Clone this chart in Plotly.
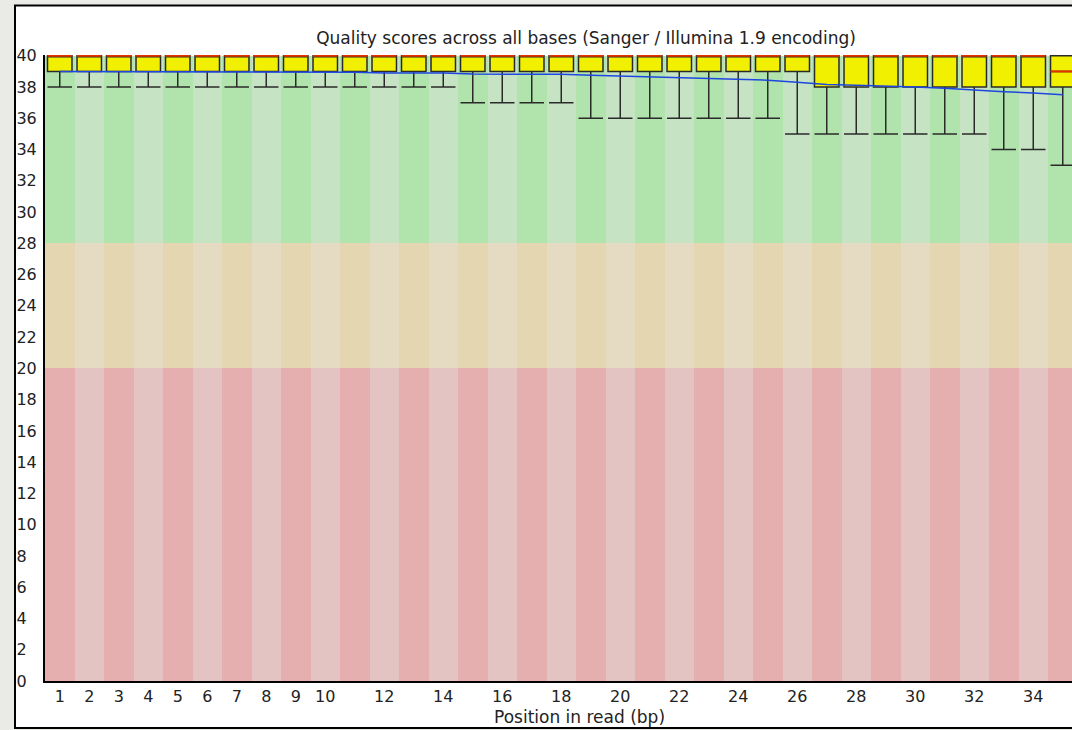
import plotly.graph_objects as go

# ---- data ----
positions = list(range(1, 36))
tick_vals = [1, 2, 3, 4, 5, 6, 7, 8, 9, 10, 12, 14, 16, 18, 20, 22, 24, 26, 28, 30, 32, 34]
tick_text = [str(v) for v in tick_vals]
y_tick_vals = list(range(0, 41, 2))

upper_whisker = [40] * 35
upper_quartile = [40] * 35
median = [40] * 34 + [39]
lower_quartile = [39] * 26 + [38] * 9
lower_whisker = [38] * 14 + [37] * 4 + [36] * 7 + [35] * 7 + [34] * 2 + [33]
mean = [38.99, 38.99, 38.99, 38.99, 38.95, 38.98, 38.98, 38.98, 38.95, 38.95,
        38.95, 38.9, 38.9, 38.9, 38.83, 38.83, 38.83, 38.82, 38.75, 38.7,
        38.66, 38.6, 38.52, 38.5, 38.44, 38.3, 38.17, 38.12, 38.07, 38.0,
        37.92, 37.8, 37.7, 37.62, 37.5]

# quality zones: thresholds and alternating colours (odd col, even col)
zone_bounds = [0, 20, 28, 40]
zone_colors = [
    ("rgb(230,175,175)", "rgb(228,195,195)"),  # poor
    ("rgb(228,214,176)", "rgb(228,219,194)"),  # reasonable
    ("rgb(176,228,172)", "rgb(198,228,196)"),  # good
]

title_text = "Quality scores across all bases (Sanger / Illumina 1.9 encoding)"
x_title_text = "Position in read (bp)"

FONT = "DejaVu Sans"
TXT = "#222222"
BOX_W = 0.83

fig = go.Figure()

# background zone bands
for i in range(3):
    lo, hi = zone_bounds[i], zone_bounds[i + 1]
    cols = [zone_colors[i][0] if p % 2 == 1 else zone_colors[i][1] for p in positions]
    fig.add_trace(go.Bar(
        x=positions, y=[hi - lo] * len(positions), base=[lo] * len(positions),
        width=1, marker=dict(color=cols, line=dict(width=0)),
        hoverinfo="skip", showlegend=False,
    ))

# boxes
fig.add_trace(go.Box(
    x=positions, q1=lower_quartile, median=median, q3=upper_quartile,
    lowerfence=lower_whisker, upperfence=upper_whisker,
    width=BOX_W, whiskerwidth=1,
    fillcolor="rgb(240,240,0)", line=dict(color="#2a2a2a", width=1.5),
    boxpoints=False, showlegend=False, hoverinfo="skip",
))

# medians (red)
mx, my = [], []
for p, m in zip(positions, median):
    mx += [p - BOX_W / 2, p + BOX_W / 2, None]
    my += [m, m, None]
fig.add_trace(go.Scatter(x=mx, y=my, mode="lines",
                         line=dict(color="rgb(225,50,0)", width=2),
                         hoverinfo="skip", showlegend=False))

# mean line (blue)
fig.add_trace(go.Scatter(x=positions, y=mean, mode="lines",
                         line=dict(color="rgb(30,70,225)", width=1.5),
                         hoverinfo="skip", showlegend=False))

y_tick_text = [str(v) if v >= 10 else str(v) + "\u2007" for v in y_tick_vals]

W, H = 1072, 730
L, R, T, B = 45, 0, 55, 49
pw, ph = W - L - R, H - T - B

fig.update_layout(
    width=W, height=H, autosize=False,
    margin=dict(l=L, r=R, t=T, b=B, pad=0),
    paper_bgcolor="rgb(234,234,231)",
    plot_bgcolor="white",
    barmode="overlay", bargap=0,
    font=dict(family=FONT, size=16, color=TXT),
    title=dict(text=title_text, x=(586 - L) / pw, xref="paper", xanchor="center",
               y=1 - 38 / H, yref="container", yanchor="middle",
               font=dict(family=FONT, size=17, color=TXT)),
    xaxis=dict(range=[0.5, 0.5 + pw / 29.5], tickvals=tick_vals, ticktext=tick_text,
               showgrid=False, zeroline=False, showline=True, linecolor="black",
               linewidth=2, ticks="", tickfont=dict(family=FONT, size=16, color=TXT)),
    yaxis=dict(range=[0, 40.05], tickvals=y_tick_vals, ticktext=y_tick_text,
               showgrid=False, zeroline=False, showline=True, linecolor="black",
               linewidth=2, ticks="", ticklabelstandoff=3,
               tickfont=dict(family=FONT, size=16, color=TXT)),
    shapes=[dict(type="rect", xref="paper", yref="paper",
                 x0=(15 - L) / pw, x1=1.2, y0=(H - B - 728) / ph, y1=(H - B - 5.5) / ph,
                 line=dict(color="black", width=2), fillcolor="white", layer="below")],
    annotations=[dict(text=x_title_text, xref="paper", yref="paper",
                      x=(579 - L) / pw, y=(H - B - 717) / ph, xanchor="center",
                      yanchor="middle", showarrow=False,
                      font=dict(family=FONT, size=17, color=TXT))],
)

fig.write_html(
    "out.html",
    config={"displayModeBar": False},
    post_script="document.body.style.margin='0';document.body.style.overflow='hidden';",
)
